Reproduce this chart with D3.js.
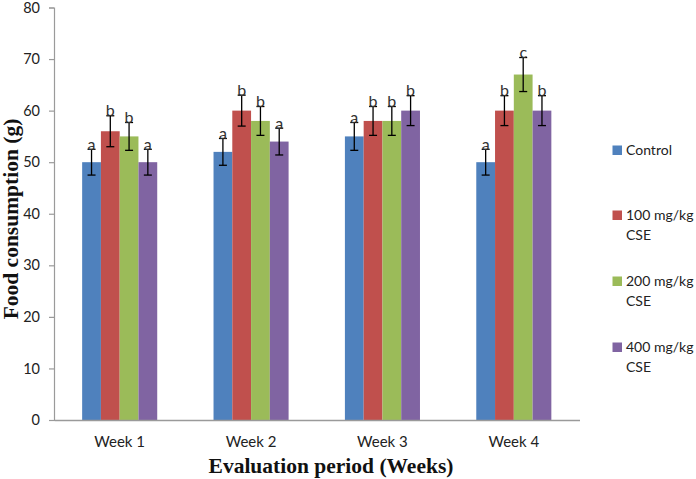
<!DOCTYPE html>
<html>
<head>
<meta charset="utf-8">
<script src="https://cdn.jsdelivr.net/npm/d3@7"></script>
<style>
  html, body { margin: 0; padding: 0; background: #fff; }
  svg { display: block; }
</style>
</head>
<body>
<svg id="chart" width="696" height="479"></svg>
<script>
const weeks = ["Week 1", "Week 2", "Week 3", "Week 4"];
const seriesNames = ["Control", "100 mg/kg CSE", "200 mg/kg CSE", "400 mg/kg CSE"];
const legendLines = [["Control"], ["100 mg/kg", "CSE"], ["200 mg/kg", "CSE"], ["400 mg/kg", "CSE"]];
const colors = ["#4F81BD", "#C0504D", "#9BBB59", "#8064A2"];
// values per series, one entry per week
const control = [50, 52, 55, 50];
const cse100 = [56, 60, 58, 60];
const cse200 = [55, 58, 58, 67];
const cse400 = [50, 54, 60, 60];
const errControl = [2.5, 2.6, 2.7, 2.5];
const err100 = [3.0, 3.0, 2.8, 2.9];
const err200 = [2.7, 2.8, 2.8, 3.3];
const err400 = [2.5, 2.6, 2.9, 2.9];
const letControl = ["a", "a", "a", "a"];
const let100 = ["b", "b", "b", "b"];
const let200 = ["b", "b", "b", "c"];
const let400 = ["a", "a", "b", "b"];
const yTicks = [0, 10, 20, 30, 40, 50, 60, 70, 80];

const values = [control, cse100, cse200, cse400];
const errors = [errControl, err100, err200, err400];
const letters = [letControl, let100, let200, let400];

const svg = d3.select("#chart");
const pLeft = 54, pRight = 579.5, pTop = 7.5, pBottom = 420;
const sans = "Lato, 'Open Sans', sans-serif";

const x = d3.scaleBand().domain(weeks).range([pLeft, pRight]).paddingInner(0).paddingOuter(0);
const bw = x.bandwidth();
const xs = d3.scaleBand().domain(d3.range(4)).range([bw * 3 / 14, bw * 11 / 14]);
const y = d3.scaleLinear().domain([0, 80]).range([pBottom, pTop]);

const data = [];
weeks.forEach((w, wi) => {
  for (let s = 0; s < 4; s++) {
    data.push({ week: w, s, v: values[s][wi], e: errors[s][wi], l: letters[s][wi] });
  }
});

// Y axis
const yAxis = d3.axisLeft(y).tickValues(yTicks).tickSize(5).tickPadding(9).tickFormat(d3.format("d"));
const ya = svg.append("g").attr("transform", `translate(${pLeft},0)`).call(yAxis);
ya.select(".domain").attr("stroke", "#9a9a9a").attr("stroke-width", 1.2);
ya.selectAll(".tick line").attr("stroke", "#9a9a9a").attr("stroke-width", 1.2);
ya.selectAll(".tick text").attr("font-family", sans).attr("font-size", 14.5).attr("fill", "#222");

// Bars
svg.append("g").selectAll("rect").data(data).join("rect")
  .attr("x", d => x(d.week) + xs(d.s))
  .attr("y", d => y(d.v))
  .attr("width", xs.bandwidth())
  .attr("height", d => y(0) - y(d.v))
  .attr("fill", d => colors[d.s]);

// X axis
const xAxis = d3.axisBottom(x).tickSize(0).tickPadding(16);
const xa = svg.append("g").attr("transform", `translate(0,${pBottom})`).call(xAxis);
xa.select(".domain").attr("stroke", "#9a9a9a").attr("stroke-width", 1.5);
xa.selectAll(".tick text").attr("font-family", sans).attr("font-size", 15).attr("fill", "#222");

// Error bars
const eg = svg.append("g").attr("stroke", "#000").attr("stroke-width", 1.3);
data.forEach(d => {
  const cx = x(d.week) + xs(d.s) + xs.bandwidth() / 2;
  eg.append("line").attr("x1", cx).attr("x2", cx).attr("y1", y(d.v + d.e)).attr("y2", y(d.v - d.e));
  eg.append("line").attr("x1", cx - 4).attr("x2", cx + 4).attr("y1", y(d.v + d.e)).attr("y2", y(d.v + d.e));
  eg.append("line").attr("x1", cx - 4).attr("x2", cx + 4).attr("y1", y(d.v - d.e)).attr("y2", y(d.v - d.e));
});

// Letters
svg.append("g").selectAll("text").data(data).join("text")
  .attr("x", d => x(d.week) + xs(d.s) + xs.bandwidth() / 2)
  .attr("y", d => y(d.v + d.e) + 0.5)
  .attr("text-anchor", "middle")
  .attr("font-family", sans)
  .attr("font-size", 16)
  .attr("fill", "#333")
  .text(d => d.l);

// Axis titles
svg.append("text")
  .attr("x", 331)
  .attr("y", 473)
  .attr("text-anchor", "middle")
  .attr("font-family", "'Liberation Serif', 'Times New Roman', serif")
  .attr("font-weight", "bold")
  .attr("font-size", 21.5)
  .attr("fill", "#111")
  .text("Evaluation period (Weeks)");

svg.append("text")
  .attr("transform", "translate(18,219) rotate(-90)")
  .attr("text-anchor", "middle")
  .attr("font-family", "'Liberation Serif', 'Times New Roman', serif")
  .attr("font-weight", "bold")
  .attr("font-size", 21.5)
  .attr("fill", "#111")
  .text("Food consumption (g)");

// Legend
const legendY = [150, 215, 281, 347];
const lg = svg.append("g");
seriesNames.forEach((name, i) => {
  const g = lg.append("g").attr("transform", `translate(612.5,${legendY[i]})`);
  g.append("rect").attr("x", 0).attr("y", -4.5).attr("width", 9.5).attr("height", 9.5).attr("fill", colors[i]);
  legendLines[i].forEach((ln, j) => {
    g.append("text")
      .attr("x", 13.5)
      .attr("y", j * 20.5)
      .attr("dy", "0.35em")
      .attr("font-family", sans)
      .attr("font-size", 14)
      .attr("fill", "#222")
      .text(ln);
  });
});
</script>
</body>
</html>
